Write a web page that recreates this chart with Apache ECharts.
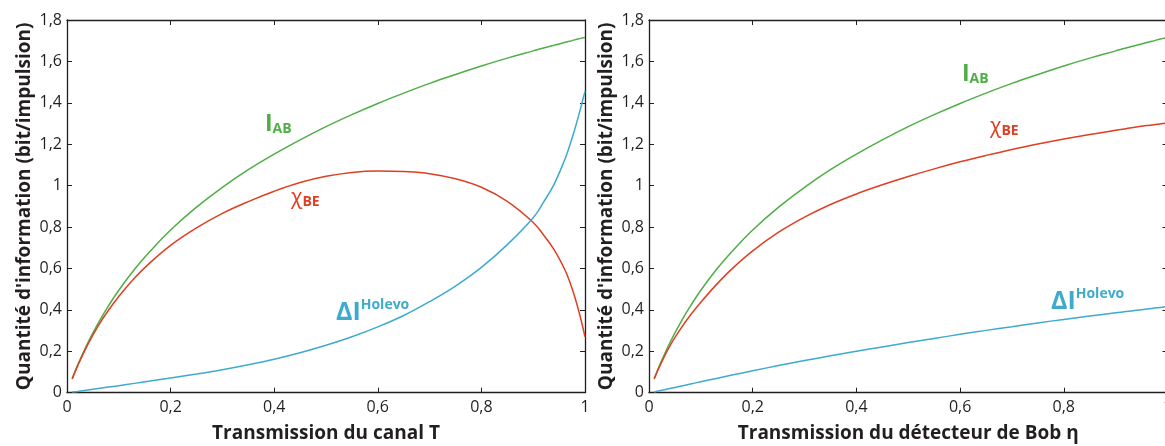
<!DOCTYPE html>
<html>
<head>
<meta charset="utf-8">
<script src="https://cdn.jsdelivr.net/npm/echarts@6/dist/echarts.min.js"></script>
<style>
  html, body { margin: 0; padding: 0; background: #ffffff; }
  #chart { width: 1165px; height: 446px; }
</style>
</head>
<body>
<div id="chart"></div>
<script>
// ---- Data ----
const T = [0.01,0.02,0.04,0.06,0.08,0.1,0.13,0.16,0.2,0.25,0.3,0.35,0.4,0.45,0.5,0.55,0.6,0.65,0.7,0.75,0.8,0.85,0.9,0.92,0.94,0.96,0.97,0.98,0.99,1.0];

const leftIAB    = [0.068,0.130,0.240,0.335,0.419,0.495,0.595,0.682,0.786,0.896,0.992,1.077,1.152,1.221,1.285,1.343,1.397,1.447,1.494,1.537,1.578,1.616,1.651,1.665,1.678,1.691,1.697,1.704,1.710,1.716];
const leftChiBE  = [0.066,0.126,0.232,0.322,0.398,0.465,0.553,0.627,0.712,0.796,0.866,0.923,0.973,1.015,1.045,1.064,1.071,1.068,1.058,1.033,0.992,0.924,0.822,0.762,0.692,0.600,0.540,0.465,0.375,0.270];
const leftDeltaI = [0.003,0.006,0.013,0.020,0.027,0.034,0.045,0.056,0.071,0.090,0.111,0.135,0.162,0.193,0.229,0.270,0.318,0.373,0.440,0.515,0.605,0.715,0.845,0.920,1.005,1.120,1.190,1.270,1.360,1.455];

const rightIAB    = [0.068,0.130,0.240,0.335,0.419,0.495,0.595,0.682,0.786,0.896,0.992,1.077,1.152,1.221,1.285,1.343,1.397,1.447,1.494,1.537,1.578,1.616,1.651,1.665,1.678,1.691,1.697,1.704,1.710,1.716];
const rightChiBE  = [0.066,0.124,0.225,0.305,0.375,0.437,0.522,0.598,0.685,0.775,0.848,0.909,0.960,1.004,1.044,1.081,1.115,1.146,1.175,1.201,1.225,1.247,1.267,1.275,1.283,1.290,1.293,1.296,1.300,1.303];
const rightDeltaI = [0.003,0.009,0.020,0.031,0.042,0.053,0.069,0.085,0.106,0.131,0.155,0.178,0.200,0.221,0.242,0.262,0.282,0.301,0.319,0.337,0.354,0.370,0.386,0.392,0.398,0.404,0.407,0.410,0.413,0.416];

const xTickLabels = ['0','0,2','0,4','0,6','0,8','1'];
const yTickLabels = ['0','0,2','0,4','0,6','0,8','1','1,2','1,4','1,6','1,8'];

const xTitleLeft  = 'Transmission du canal T';
const xTitleRight = 'Transmission du détecteur de Bob η';
const yTitle = "Quantité d'information (bit/impulsion)";

// ---- Styles ----
const FONT = '"Open Sans", "Noto Sans", sans-serif';
const INK = '#231f20';
const GREEN = '#4fae46';
const RED = '#de3f22';
const BLUE = '#3eabcd';

const pairs = (xs, ys) => xs.map((x, i) => [x, ys[i]]);

function bottomX(grid, title) {
  return {
    type: 'value', gridIndex: grid, min: 0, max: 1, interval: 0.2, position: 'bottom',
    axisLine: { show: true, onZero: false, lineStyle: { color: INK, width: 1.3 } },
    axisTick: { show: true, inside: true, length: 5, lineStyle: { color: INK, width: 1 } },
    axisLabel: { show: true, margin: 7, color: INK, fontFamily: FONT, fontSize: 16,
      hideOverlap: false, showMaxLabel: true, showMinLabel: true,
      formatter: v => xTickLabels[Math.round(v / 0.2)] },
    splitLine: { show: false },
    name: title, nameLocation: 'middle', nameGap: 31,
    nameTextStyle: { color: INK, fontFamily: FONT, fontSize: 19, fontWeight: 'bold' }
  };
}
function topX(grid) {
  return {
    type: 'value', gridIndex: grid, min: 0, max: 1, interval: 0.2, position: 'top',
    axisLine: { show: true, onZero: false, lineStyle: { color: INK, width: 1.3 } },
    axisTick: { show: true, inside: true, length: 5, lineStyle: { color: INK, width: 1 } },
    axisLabel: { show: false }, splitLine: { show: false }
  };
}
function leftY(grid) {
  return {
    type: 'value', gridIndex: grid, min: 0, max: 1.8, interval: 0.2, position: 'left',
    axisLine: { show: true, onZero: false, lineStyle: { color: INK, width: 1.3 } },
    axisTick: { show: true, inside: true, length: 5, lineStyle: { color: INK, width: 1 } },
    axisLabel: { show: true, margin: 5, color: INK, fontFamily: FONT, fontSize: 16,
      formatter: v => yTickLabels[Math.round(v / 0.2)] },
    splitLine: { show: false },
    name: yTitle, nameLocation: 'middle', nameGap: 33, nameRotate: 90,
    nameTextStyle: { color: INK, fontFamily: FONT, fontSize: 19, fontWeight: 'bold' }
  };
}
function rightY(grid) {
  return {
    type: 'value', gridIndex: grid, min: 0, max: 1.8, interval: 0.2, position: 'right',
    axisLine: { show: true, onZero: false, lineStyle: { color: INK, width: 1.3 } },
    axisTick: { show: true, inside: true, length: 5, lineStyle: { color: INK, width: 1 } },
    axisLabel: { show: false }, splitLine: { show: false }
  };
}
function line(xi, yi, data, color) {
  return {
    type: 'line', xAxisIndex: xi, yAxisIndex: yi, data: data, smooth: 0.4,
    showSymbol: false, symbol: 'none', silent: true, animation: false,
    lineStyle: { color: color, width: 1.5 }, clip: false
  };
}

function iabLabel(x, y) {
  return { type: 'text', x: x, y: y, silent: true, style: {
    text: '{m|I}{s|AB}', align: 'left', verticalAlign: 'top',
    rich: {
      m: { fontFamily: FONT, fontSize: 23, fontWeight: 'bold', fill: GREEN, lineHeight: 24, verticalAlign: 'bottom' },
      s: { fontFamily: FONT, fontSize: 14, fontWeight: 'bold', fill: GREEN, lineHeight: 7, verticalAlign: 'bottom' }
    } } };
}
function chiLabel(x, y) {
  return { type: 'text', x: x, y: y, silent: true, style: {
    text: '{m|χ}{s|BE}', align: 'left', verticalAlign: 'top',
    rich: {
      m: { fontFamily: FONT, fontSize: 21, fontWeight: 'normal', fill: RED, lineHeight: 24, verticalAlign: 'bottom' },
      s: { fontFamily: FONT, fontSize: 14, fontWeight: 'bold', fill: RED, lineHeight: 6, verticalAlign: 'bottom' }
    } } };
}
function holevoLabel(x, y) {
  return { type: 'text', x: x, y: y, silent: true, style: {
    text: '{m|ΔI}{s|Holevo}', align: 'left', verticalAlign: 'top',
    rich: {
      m: { fontFamily: FONT, fontSize: 25, fontWeight: 'bold', fill: BLUE, lineHeight: 27, verticalAlign: 'bottom' },
      s: { fontFamily: FONT, fontSize: 14, fontWeight: 'bold', fill: BLUE, lineHeight: 15, verticalAlign: 'top' }
    } } };
}

const chart = echarts.init(document.getElementById('chart'), null, { renderer: 'canvas' });
chart.setOption({
  backgroundColor: '#ffffff',
  animation: false,
  grid: [
    { left: 67, top: 20, width: 518, height: 372.7, containLabel: false, outerBoundsMode: 'none' },
    { left: 649, top: 20, width: 518.5, height: 372.7, containLabel: false, outerBoundsMode: 'none' }
  ],
  xAxis: [bottomX(0, xTitleLeft), topX(0), bottomX(1, xTitleRight), topX(1)],
  yAxis: [leftY(0), rightY(0), leftY(1), rightY(1)],
  series: [
    line(0, 0, pairs(T, leftIAB), GREEN),
    line(0, 0, pairs(T, leftChiBE), RED),
    line(0, 0, pairs(T, leftDeltaI), BLUE),
    line(2, 2, pairs(T, rightIAB), GREEN),
    line(2, 2, pairs(T, rightChiBE), RED),
    line(2, 2, pairs(T, rightDeltaI), BLUE)
  ],
  graphic: [
    iabLabel(265, 112), chiLabel(291, 185), holevoLabel(336, 298),
    iabLabel(962, 62), chiLabel(990, 114), holevoLabel(1051, 287)
  ]
});
</script>
</body>
</html>
